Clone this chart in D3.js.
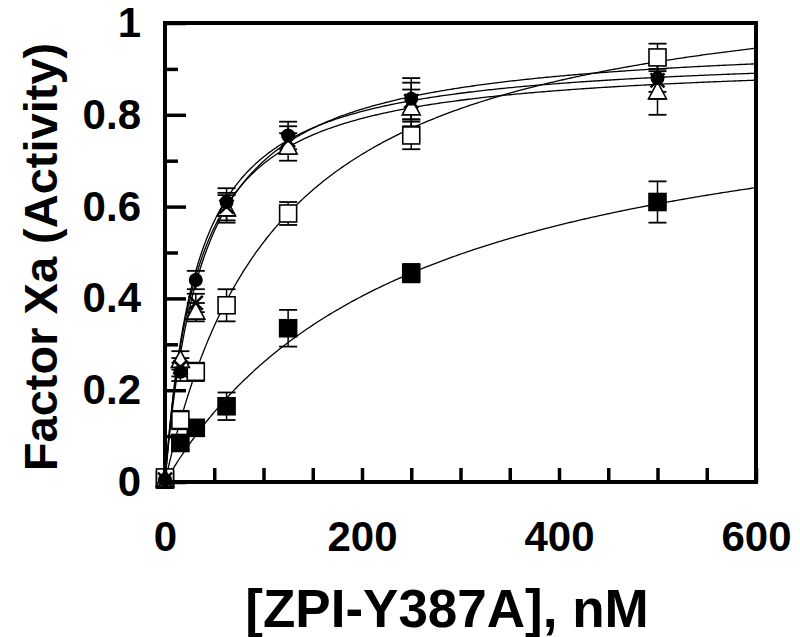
<!DOCTYPE html>
<html><head><meta charset="utf-8">
<script src="https://cdn.jsdelivr.net/npm/d3@7"></script>
<style>
html,body{margin:0;padding:0;background:#fff;}
svg{display:block;font-family:"Liberation Sans",Arial,sans-serif;}
</style></head><body>
<svg id="chart" width="800" height="637"></svg>
<script>
// ---- data ----
const concentrations = [0, 15.6, 31.25, 62.5, 125, 250, 500];
const filledSquares   = [0.005, 0.085, 0.118, 0.165, 0.335, 0.455, 0.61];
const filledSquaresErr= [0.01, 0.015, 0.015, 0.03, 0.04, 0.02, 0.045];
const openSquares     = [0.01, 0.135, 0.24, 0.385, 0.585, 0.755, 0.925];
const openSquaresErr  = [0.01, 0.02, 0.02, 0.035, 0.025, 0.03, 0.03];
const filledCircles   = [0.005, 0.24, 0.44, 0.61, 0.755, 0.835, 0.88];
const filledCirclesErr= [0.01, 0.02, 0.02, 0.03, 0.03, 0.045, 0.03];
const crosses         = [0.005, 0.25, 0.39, 0.60, 0.745, 0.83, 0.875];
const crossesErr      = [0.01, 0.02, 0.02, 0.03, 0.03, 0.04, 0.04];
const openTriangles   = [0.005, 0.265, 0.37, 0.595, 0.73, 0.815, 0.85];
const openTrianglesErr= [0.01, 0.02, 0.02, 0.03, 0.03, 0.04, 0.05];
// hyperbolic fit parameters (Bmax, Kd in nM) for the drawn curves
const fitNames = ["filledSquares","openSquares","filledCircles","crosses","openTriangles"];
const fitBmax  = [0.906, 1.128, 0.970, 0.939, 0.924];
const fitKd    = [247.6, 116, 38.8, 32.6, 33.3];
const xTickValues = [0,50,100,150,200,250,300,350,400,450,500,550,600];
const xTickLabels = ["0","200","400","600"];
const yTickValues = [0,0.1,0.2,0.3,0.4,0.5,0.6,0.7,0.8,0.9,1];
const yTickLabels = ["0","0.2","0.4","0.6","0.8","1"];
const xTitle = "[ZPI-Y387A], nM";
const yTitle = "Factor Xa (Activity)";

const series = [
  {name:"filledSquares", y:filledSquares, e:filledSquaresErr, marker:"square", fill:"#000"},
  {name:"openSquares", y:openSquares, e:openSquaresErr, marker:"square", fill:"#fff"},
  {name:"openTriangles", y:openTriangles, e:openTrianglesErr, marker:"triangle", fill:"#fff"},
  {name:"crosses", y:crosses, e:crossesErr, marker:"cross", fill:"#000"},
  {name:"filledCircles", y:filledCircles, e:filledCirclesErr, marker:"circle", fill:"#000"}
];

const L=165, R=756, T=23, B=482;
const svg = d3.select("#chart");
const x = d3.scaleLinear().domain([0,600]).range([L,R]);
const y = d3.scaleLinear().domain([0,1]).range([B,T]);

// fit curves
const line = d3.line().x(d=>x(d[0])).y(d=>y(d[1]));
const gCurves = svg.append("g");
fitNames.forEach((n,i)=>{
  const pts = d3.range(0,601,2).map(c=>[c, fitBmax[i]*c/(fitKd[i]+c)]);
  gCurves.append("path").attr("d",line(pts)).attr("fill","none")
    .attr("stroke","#000").attr("stroke-width",1.3);
});

// error bars and markers
const gPts = svg.append("g");
const cap = 9;
series.forEach(s=>{
  s.y.forEach((v,i)=>{
    const cx = x(concentrations[i]);
    const top = y(v + s.e[i]), bot = y(v - s.e[i]);
    gPts.append("line").attr("x1",cx).attr("x2",cx).attr("y1",top).attr("y2",bot)
      .attr("stroke","#000").attr("stroke-width",1.5);
    [top,bot].forEach(yy=>gPts.append("line").attr("x1",cx-cap).attr("x2",cx+cap)
      .attr("y1",yy).attr("y2",yy).attr("stroke","#000").attr("stroke-width",1.8));
  });
});
series.forEach(s=>{
  s.y.forEach((v,i)=>{
    const cx = x(concentrations[i]), cy = y(v);
    if(s.marker==="square"){
      gPts.append("rect").attr("x",cx-8.5).attr("y",cy-8.5).attr("width",17).attr("height",17)
        .attr("fill",s.fill).attr("stroke","#000").attr("stroke-width",1.6);
    } else if(s.marker==="triangle"){
      gPts.append("path").attr("d",`M${cx},${cy-10}L${cx+9},${cy+7}L${cx-9},${cy+7}Z`)
        .attr("fill",s.fill).attr("stroke","#000").attr("stroke-width",1.6);
    } else if(s.marker==="circle"){
      gPts.append("circle").attr("cx",cx).attr("cy",cy).attr("r",7).attr("fill",s.fill);
    } else {
      gPts.append("path").attr("d",`M${cx-7},${cy-7}L${cx+7},${cy+7}M${cx+7},${cy-7}L${cx-7},${cy+7}`)
        .attr("stroke","#000").attr("stroke-width",2.5);
    }
  });
});

// axes
const fmt1 = d=>String(+d.toFixed(1));
const xAxis = d3.axisBottom(x).tickValues(xTickValues).tickSizeInner(-14).tickSizeOuter(0).tickPadding(39)
  .tickFormat(d=>xTickLabels.includes(String(d))?String(d):"");
const gx = svg.append("g").attr("transform",`translate(0,${B})`).call(xAxis);
const yAxis = d3.axisLeft(y).tickValues(yTickValues).tickSizeInner(-13).tickSizeOuter(0).tickPadding(24)
  .tickFormat(d=>yTickLabels.includes(fmt1(d))?fmt1(d):"");
const gy = svg.append("g").attr("transform",`translate(${L},0)`).call(yAxis);
gy.selectAll(".tick line").attr("x2",d=>(Math.round(d*10)%2===0)?21:13);
[gx,gy].forEach(g=>{
  g.select(".domain").remove();
  g.selectAll(".tick line").attr("stroke","#000").attr("stroke-width",3.5);
  g.selectAll(".tick text").attr("fill","#000").attr("font-size",42).attr("font-weight","bold")
    .attr("font-family","'Liberation Sans',Arial,sans-serif");
});
// frame
svg.append("rect").attr("x",L).attr("y",T).attr("width",R-L).attr("height",B-T)
  .attr("fill","none").attr("stroke","#000").attr("stroke-width",4);

// titles
svg.append("text").attr("x",447).attr("y",627).attr("text-anchor","middle")
  .attr("font-size",53).attr("font-weight","bold").text(xTitle);
svg.append("text").attr("transform","translate(57,257) rotate(-90)").attr("text-anchor","middle")
  .attr("font-size",47).attr("font-weight","bold").text(yTitle);
</script></body></html>
